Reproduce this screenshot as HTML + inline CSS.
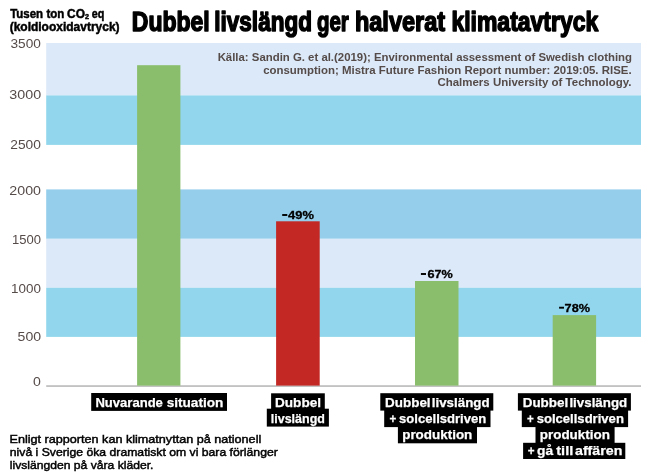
<!DOCTYPE html>
<html><head><meta charset="utf-8"><title>Dubbel livslängd ger halverat klimatavtryck</title>
<style>html,body{margin:0;padding:0;background:#fff}body{width:655px;height:474px;overflow:hidden;font-family:"Liberation Sans",sans-serif}svg{display:block;will-change:transform}text{font-family:"Liberation Sans",sans-serif}</style></head>
<body><svg width="655" height="474" viewBox="0 0 655 474">
<rect width="655" height="474" fill="#fff"/>
<rect x="46.2" y="43.0" width="594.8" height="52.4" fill="#dbe9f8"/>
<rect x="46.2" y="95.4" width="594.8" height="49.5" fill="#92d6ed"/>
<rect x="46.2" y="189.4" width="594.8" height="49.4" fill="#95ceeb"/>
<rect x="46.2" y="238.8" width="594.8" height="49.0" fill="#dbe9f8"/>
<rect x="46.2" y="287.8" width="594.8" height="49.1" fill="#92d6ed"/>
<rect x="46.2" y="385.4" width="594.8" height="1.3" fill="#a9a9a9"/>
<rect x="137.1" y="65.2" width="43.3" height="320.4" fill="#8abe6c"/>
<rect x="276.1" y="221.3" width="43.6" height="164.3" fill="#c32824"/>
<rect x="415.0" y="281.0" width="43.5" height="104.6" fill="#8abe6c"/>
<rect x="552.7" y="315.1" width="43.4" height="70.5" fill="#8abe6c"/>
<text x="10.50" y="48.0" font-size="12.8" font-weight="normal" fill="#554b49" textLength="30.35" lengthAdjust="spacingAndGlyphs" >3500</text>
<text x="9.30" y="99.0" font-size="12.8" font-weight="normal" fill="#554b49" textLength="31.80" lengthAdjust="spacingAndGlyphs" >3000</text>
<text x="10.25" y="149.0" font-size="12.8" font-weight="normal" fill="#554b49" textLength="30.60" lengthAdjust="spacingAndGlyphs" >2500</text>
<text x="9.35" y="194.9" font-size="12.8" font-weight="normal" fill="#554b49" textLength="31.65" lengthAdjust="spacingAndGlyphs" >2000</text>
<text x="11.90" y="244.0" font-size="12.8" font-weight="normal" fill="#554b49" textLength="29.00" lengthAdjust="spacingAndGlyphs" >1500</text>
<text x="11.00" y="292.9" font-size="12.8" font-weight="normal" fill="#554b49" textLength="29.85" lengthAdjust="spacingAndGlyphs" >1000</text>
<text x="17.55" y="341.0" font-size="12.8" font-weight="normal" fill="#554b49" textLength="23.50" lengthAdjust="spacingAndGlyphs" >500</text>
<text x="33.00" y="385.9" font-size="12.8" font-weight="normal" fill="#554b49" textLength="7.85" lengthAdjust="spacingAndGlyphs" >0</text>
<rect x="282.2" y="214.05" width="5.1" height="1.9" fill="#000"/>
<text x="288.10" y="218.8" font-size="11.6" font-weight="bold" fill="#000" textLength="25.85" lengthAdjust="spacingAndGlyphs" stroke="#000" stroke-width="0.3">49%</text>
<rect x="420.9" y="273.05" width="5.1" height="1.9" fill="#000"/>
<text x="427.45" y="277.8" font-size="11.6" font-weight="bold" fill="#000" textLength="25.35" lengthAdjust="spacingAndGlyphs" stroke="#000" stroke-width="0.3">67%</text>
<rect x="559.1" y="306.75" width="4.9" height="1.9" fill="#000"/>
<text x="564.60" y="311.5" font-size="11.6" font-weight="bold" fill="#000" textLength="25.40" lengthAdjust="spacingAndGlyphs" stroke="#000" stroke-width="0.3">78%</text>
<text x="10.15" y="17.7" font-size="11.9" font-weight="bold" fill="#000" textLength="32.95" lengthAdjust="spacingAndGlyphs" stroke="#000" stroke-width="0.45">Tusen</text>
<text x="46.50" y="17.7" font-size="11.9" font-weight="bold" fill="#000" textLength="17.90" lengthAdjust="spacingAndGlyphs" stroke="#000" stroke-width="0.45">ton</text>
<text x="67.05" y="17.7" font-size="11.9" font-weight="bold" fill="#000" textLength="17.90" lengthAdjust="spacingAndGlyphs" stroke="#000" stroke-width="0.45">CO</text>
<text x="91.85" y="17.7" font-size="11.9" font-weight="bold" fill="#000" textLength="12.60" lengthAdjust="spacingAndGlyphs" stroke="#000" stroke-width="0.45">eq</text>
<text x="84.90" y="19.2" font-size="6.6" font-weight="bold" fill="#000" textLength="4.00" lengthAdjust="spacingAndGlyphs" stroke="#000" stroke-width="0.45">2</text>
<text x="9.65" y="30.8" font-size="11.9" font-weight="bold" fill="#000" textLength="109.95" lengthAdjust="spacingAndGlyphs" stroke="#000" stroke-width="0.45">(koldiooxidavtryck)</text>
<text x="131.80" y="31.1" font-size="27.0" font-weight="bold" fill="#000" textLength="77.90" lengthAdjust="spacingAndGlyphs" stroke="#000" stroke-width="1.5" stroke-linejoin="round">Dubbel</text>
<text x="214.30" y="31.1" font-size="27.0" font-weight="bold" fill="#000" textLength="97.65" lengthAdjust="spacingAndGlyphs" stroke="#000" stroke-width="1.5" stroke-linejoin="round">livslängd</text>
<text x="316.95" y="31.1" font-size="27.0" font-weight="bold" fill="#000" textLength="31.90" lengthAdjust="spacingAndGlyphs" stroke="#000" stroke-width="1.5" stroke-linejoin="round">ger</text>
<text x="354.90" y="31.1" font-size="27.0" font-weight="bold" fill="#000" textLength="90.30" lengthAdjust="spacingAndGlyphs" stroke="#000" stroke-width="1.5" stroke-linejoin="round">halverat</text>
<text x="451.40" y="31.1" font-size="27.0" font-weight="bold" fill="#000" textLength="146.90" lengthAdjust="spacingAndGlyphs" stroke="#000" stroke-width="1.5" stroke-linejoin="round">klimatavtryck</text>
<text x="217.65" y="60.9" font-size="11.5" font-weight="bold" fill="#554b49" textLength="414.35" lengthAdjust="spacingAndGlyphs" >Källa: Sandin G. et al.(2019); Environmental assessment of Swedish clothing</text>
<text x="263.20" y="73.6" font-size="11.5" font-weight="bold" fill="#554b49" textLength="368.40" lengthAdjust="spacingAndGlyphs" >consumption; Mistra Future Fashion Report number: 2019:05. RISE.</text>
<text x="437.40" y="86.3" font-size="11.5" font-weight="bold" fill="#554b49" textLength="194.10" lengthAdjust="spacingAndGlyphs" >Chalmers University of Technology.</text>
<text x="9.55" y="443.0" font-size="11.5" font-weight="normal" fill="#000" textLength="251.70" lengthAdjust="spacingAndGlyphs" stroke="#000" stroke-width="0.45">Enligt rapporten kan klimatnyttan på nationell</text>
<text x="9.80" y="455.8" font-size="11.5" font-weight="normal" fill="#000" textLength="268.00" lengthAdjust="spacingAndGlyphs" stroke="#000" stroke-width="0.45">nivå i Sverige öka dramatiskt om vi bara förlänger</text>
<text x="9.80" y="468.7" font-size="11.5" font-weight="normal" fill="#000" textLength="143.65" lengthAdjust="spacingAndGlyphs" stroke="#000" stroke-width="0.45">livslängden på våra kläder.</text>
<rect x="91.2" y="393.0" width="135.8" height="17.9" fill="#000"/>
<text x="95.40" y="406.5" font-size="12.7" font-weight="bold" fill="#fff" textLength="67.50" lengthAdjust="spacingAndGlyphs" stroke="#fff" stroke-width="0.25">Nuvarande</text>
<text x="166.65" y="406.5" font-size="12.7" font-weight="bold" fill="#fff" textLength="56.75" lengthAdjust="spacingAndGlyphs" stroke="#fff" stroke-width="0.25">situation</text>
<rect x="271.1" y="393.3" width="53.7" height="16.2" fill="#000"/>
<rect x="266.8" y="408.7" width="62.1" height="17.9" fill="#000"/>
<text x="275.00" y="406.6" font-size="12.7" font-weight="bold" fill="#fff" textLength="46.00" lengthAdjust="spacingAndGlyphs" stroke="#fff" stroke-width="0.25">Dubbel</text>
<text x="270.80" y="423.0" font-size="12.7" font-weight="bold" fill="#fff" textLength="54.10" lengthAdjust="spacingAndGlyphs" stroke="#fff" stroke-width="0.25">livslängd</text>
<rect x="380.3" y="393.2" width="113.0" height="17.4" fill="#000"/>
<rect x="384.2" y="410.0" width="106.3" height="17.1" fill="#000"/>
<rect x="397.9" y="426.5" width="79.1" height="16.8" fill="#000"/>
<text x="385.10" y="407.1" font-size="12.7" font-weight="bold" fill="#fff" textLength="45.50" lengthAdjust="spacingAndGlyphs" stroke="#fff" stroke-width="0.25">Dubbel</text>
<text x="431.80" y="407.1" font-size="12.7" font-weight="bold" fill="#fff" textLength="57.80" lengthAdjust="spacingAndGlyphs" stroke="#fff" stroke-width="0.25">livslängd</text>
<text x="389.40" y="423.3" font-size="12.7" font-weight="bold" fill="#fff" textLength="6.80" lengthAdjust="spacingAndGlyphs" stroke="#fff" stroke-width="0.25">+</text>
<text x="399.05" y="423.3" font-size="12.7" font-weight="bold" fill="#fff" textLength="87.25" lengthAdjust="spacingAndGlyphs" stroke="#fff" stroke-width="0.25">solcellsdriven</text>
<text x="402.20" y="439.1" font-size="12.7" font-weight="bold" fill="#fff" textLength="70.10" lengthAdjust="spacingAndGlyphs" stroke="#fff" stroke-width="0.25">produktion</text>
<rect x="517.9" y="393.2" width="113.0" height="17.4" fill="#000"/>
<rect x="521.8" y="410.0" width="106.3" height="17.1" fill="#000"/>
<rect x="535.5" y="426.5" width="79.1" height="16.8" fill="#000"/>
<text x="522.70" y="407.1" font-size="12.7" font-weight="bold" fill="#fff" textLength="45.50" lengthAdjust="spacingAndGlyphs" stroke="#fff" stroke-width="0.25">Dubbel</text>
<text x="569.40" y="407.1" font-size="12.7" font-weight="bold" fill="#fff" textLength="57.80" lengthAdjust="spacingAndGlyphs" stroke="#fff" stroke-width="0.25">livslängd</text>
<text x="527.00" y="423.3" font-size="12.7" font-weight="bold" fill="#fff" textLength="6.80" lengthAdjust="spacingAndGlyphs" stroke="#fff" stroke-width="0.25">+</text>
<text x="536.65" y="423.3" font-size="12.7" font-weight="bold" fill="#fff" textLength="87.25" lengthAdjust="spacingAndGlyphs" stroke="#fff" stroke-width="0.25">solcellsdriven</text>
<text x="539.80" y="439.1" font-size="12.7" font-weight="bold" fill="#fff" textLength="70.10" lengthAdjust="spacingAndGlyphs" stroke="#fff" stroke-width="0.25">produktion</text>
<rect x="523.1" y="442.8" width="102.2" height="16.2" fill="#000"/>
<text x="527.70" y="454.6" font-size="12.7" font-weight="bold" fill="#fff" textLength="6.80" lengthAdjust="spacingAndGlyphs" stroke="#fff" stroke-width="0.25">+</text>
<text x="537.05" y="454.6" font-size="12.7" font-weight="bold" fill="#fff" textLength="16.10" lengthAdjust="spacingAndGlyphs" stroke="#fff" stroke-width="0.25">gå</text>
<text x="556.25" y="454.6" font-size="12.7" font-weight="bold" fill="#fff" textLength="17.05" lengthAdjust="spacingAndGlyphs" stroke="#fff" stroke-width="0.25">till</text>
<text x="575.00" y="454.6" font-size="12.7" font-weight="bold" fill="#fff" textLength="47.30" lengthAdjust="spacingAndGlyphs" stroke="#fff" stroke-width="0.25">affären</text>
</svg></body></html>
